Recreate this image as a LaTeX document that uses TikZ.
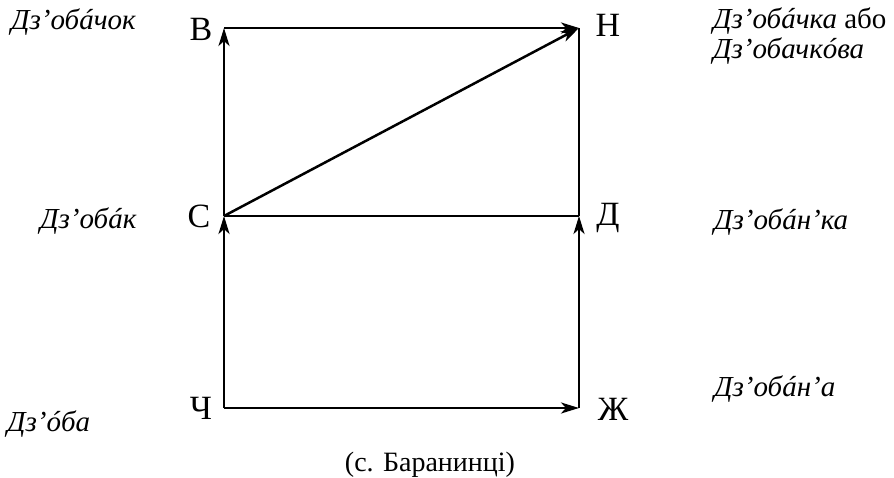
\documentclass[tikz,border=0pt]{standalone}
\usepackage{fontspec}
\setmainfont{Liberation Serif}
\usetikzlibrary{arrows.meta}
\tikzset{
  lbl/.style={font=\fontsize{34}{36}\selectfont, inner sep=0pt},
  word/.style={font=\fontsize{29}{30}\selectfont\itshape, inner sep=0pt},
  note/.style={font=\fontsize{28}{30}\selectfont, inner sep=0pt},
  conn/.style={line width=2.5pt},
  arr/.style={line width=2.5pt, -{Stealth[length=18pt, width=11pt, inset=5pt]}}
}
\begin{document}
\begin{tikzpicture}[x=1pt,y=-1pt]
\useasboundingbox (0,0) rectangle (894,478);
% corners
\coordinate (pV) at (224,28);
\coordinate (pN) at (579,28);
\coordinate (pS) at (224,216);
\coordinate (pD) at (579,216);
\coordinate (pCh) at (224,408);
\coordinate (pZh) at (579,408);
% corner letters
\node[lbl] (lV) at (201,29) {В};
\node[lbl] (lN) at (608,25) {Н};
\node[lbl] (lS) at (199,216) {С};
\node[lbl] (lD) at (608,218) {Д};
\node[lbl] (lCh) at (201,408) {Ч};
\node[lbl] (lZh) at (613,409) {Ж};
% words
\node[word, anchor=west] (wV) at (11,22) {Дз’обáчок};
\node[word, anchor=north west, align=left] (wN) at (713,8) {Дз’обáчка \upshape або\\Дз’обачкóва};
\node[word, anchor=west] (wS) at (40,221) {Дз’обáк};
\node[word, anchor=west] (wD) at (714,222) {Дз’обáн’ка};
\node[word, anchor=west] (wZh) at (714,389) {Дз’обáн’а};
\node[word, anchor=west] (wCh) at (7,424) {Дз’óба};
\node[note] (src) at (430,465) {(с. Баранинці)};
% connectors
\draw[conn] (pS) -- (pD);
\draw[conn] (pD) -- (pN);
\draw[arr] (pCh) -- (pS);
\draw[arr] (pS) -- (pV);
\draw[arr] (pV) -- (pN);
\draw[arr] (pS) -- (pN);
\draw[arr] (pCh) -- (pZh);
\draw[arr] (pZh) -- (pD);
\end{tikzpicture}
\end{document}
